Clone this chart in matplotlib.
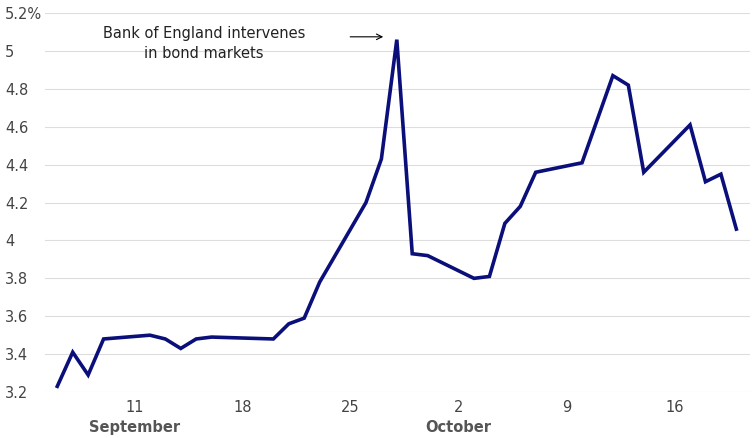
import numpy as np
import matplotlib.pyplot as plt

# days since 1 Sep 2022
days = [6, 7, 8, 9, 12, 13, 14, 15, 16, 20, 21, 22, 23, 26, 27, 28, 29, 30,
        33, 34, 35, 36, 37, 40, 42, 43, 44, 47, 48, 49, 50]
yields = [3.23, 3.41, 3.29, 3.48, 3.50, 3.48, 3.43, 3.48, 3.49, 3.48, 3.56, 3.59, 3.78,
          4.20, 4.43, 5.06, 3.93, 3.92, 3.80, 3.81, 4.09, 4.18, 4.36, 4.41,
          4.87, 4.82, 4.36, 4.61, 4.31, 4.35, 4.06]

tick_days = [11, 18, 25, 32, 39, 46]
tick_labels = ['11', '18', '25', '2', '9', '16']
month_days = [11, 32]
month_labels = ['September', 'October']
y_ticks = [3.2, 3.4, 3.6, 3.8, 4.0, 4.2, 4.4, 4.6, 4.8, 5.0, 5.2]
y_labels = ['3.2', '3.4', '3.6', '3.8', '4', '4.2', '4.4', '4.6', '4.8', '5', '5.2%']

fig = plt.figure(figsize=(7.54, 4.38), dpi=100)
ax = fig.add_axes([0.06, 0.105, 0.935, 0.865])
ax.plot(days, yields, color='#0b0f7a', linewidth=2.6, solid_joinstyle='miter')

ax.set_xlim(5.22, 50.9)
ax.set_ylim(3.2, 5.2)
ax.set_yticks(y_ticks)
ax.set_yticklabels(y_labels, fontsize=10.5, color='#444444')
ax.set_xticks(tick_days)
ax.set_xticklabels(tick_labels, fontsize=10.5, color='#444444')
ax.tick_params(length=0, pad=6)
ax.tick_params(axis='y', pad=29)
for lbl in ax.get_yticklabels():
    lbl.set_horizontalalignment('left')
for d, m in zip(month_days, month_labels):
    ax.text(d, -0.075, m, transform=ax.get_xaxis_transform(), ha='center', va='top',
            fontsize=10.5, fontweight='bold', color='#555555')
ax.grid(axis='y', color='#dddddd', linewidth=0.8)
ax.set_axisbelow(True)
for s in ax.spines.values():
    s.set_visible(False)

ax.annotate('', xy=(27.3, 5.075), xytext=(24.8, 5.075),
            arrowprops=dict(arrowstyle='->', color='black', lw=0.8))
ax.text(15.5, 5.04, 'Bank of England intervenes\nin bond markets', ha='center', va='center',
        fontsize=10.5, linespacing=1.4, color='#222222')

fig.savefig('out.png')
